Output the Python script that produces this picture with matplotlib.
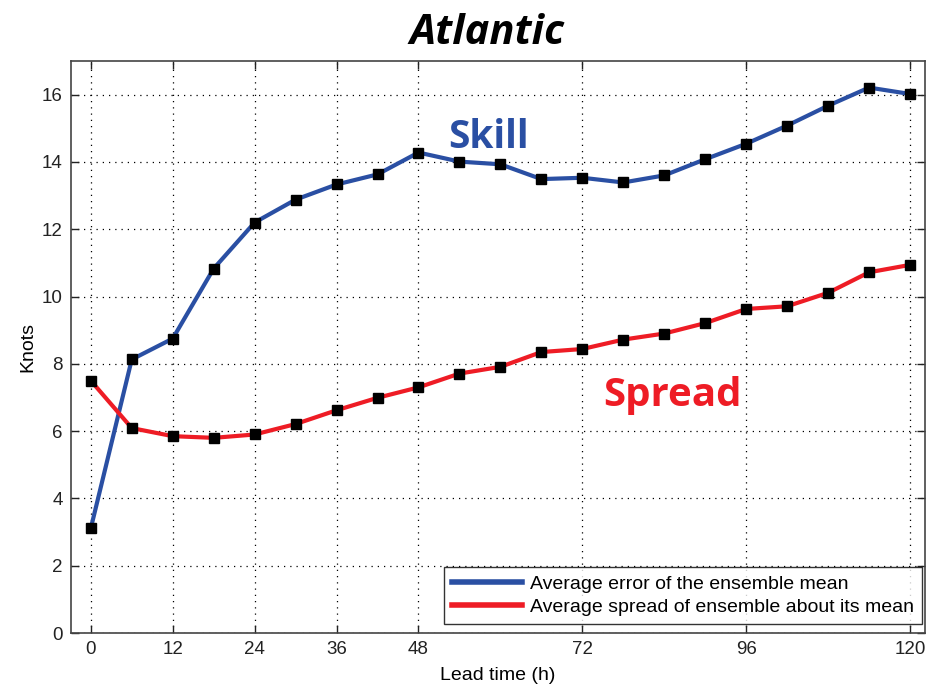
import matplotlib
matplotlib.use("Agg")
import matplotlib.pyplot as plt

lead_time = [0, 6, 12, 18, 24, 30, 36, 42, 48, 54, 60, 66, 72, 78, 84, 90, 96, 102, 108, 114, 120]
error_mean = [3.11, 8.13, 8.75, 10.83, 12.20, 12.88, 13.33, 13.63, 14.28, 14.01, 13.93, 13.49,
              13.53, 13.39, 13.60, 14.08, 14.54, 15.08, 15.67, 16.21, 16.02]
spread_mean = [7.50, 6.09, 5.85, 5.80, 5.90, 6.21, 6.62, 6.99, 7.30, 7.71, 7.91, 8.35,
               8.44, 8.72, 8.90, 9.21, 9.63, 9.71, 10.11, 10.72, 10.94]
x_ticks = [0, 12, 24, 36, 48, 72, 96, 120]
y_ticks = [0, 2, 4, 6, 8, 10, 12, 14, 16]
legend_labels = ["Average error of the ensemble mean",
                 "Average spread of ensemble about its mean"]

blue = "#2a4fa3"
red = "#ee1c25"

fig = plt.figure(figsize=(9.27, 6.86), dpi=100)
ax = fig.add_axes([71 / 927, 53 / 686, 854 / 927, 572 / 686])

ax.plot(lead_time, error_mean, color=blue, lw=3, marker="s", ms=6.5,
        mfc="black", mec="black", zorder=3)
ax.plot(lead_time, spread_mean, color=red, lw=3, marker="s", ms=6.5,
        mfc="black", mec="black", zorder=3)

ax.set_xlim(-2.9, 122.2)
ax.set_ylim(0, 17)
ax.set_xticks(x_ticks)
ax.set_yticks(y_ticks)
ax.grid(True, color="black", linestyle=(0, (1, 4)), linewidth=0.9)
ax.tick_params(direction="in", length=6, width=1, top=True, right=True,
               labelsize=13.5, colors="#222222", pad=6)
for sp in ax.spines.values():
    sp.set_color("#444444")
    sp.set_linewidth(1.2)

for lab in ax.get_xticklabels() + ax.get_yticklabels():
    lab.set_family("Liberation Sans")

ax.set_xlabel("Lead time (h)", fontsize=14, family="Liberation Sans", labelpad=6)
ax.set_ylabel("Knots", fontsize=14, family="Liberation Sans", labelpad=4)

# legend entries show only the line colour, no markers
handles = [plt.Line2D([], [], color=blue, lw=4),
           plt.Line2D([], [], color=red, lw=4)]
leg = ax.legend(handles, legend_labels, loc="lower right",
                prop={"family": "Liberation Sans", "size": 14},
                frameon=True, fancybox=False, edgecolor="black", handlelength=3.6,
                borderpad=0.4, labelspacing=0.3, handletextpad=0.4,
                bbox_to_anchor=(0.996, 0.016), borderaxespad=0)
leg.get_frame().set_linewidth(1.0)

ax.text(58.3, 14.73, "Skill", color=blue, fontsize=28, fontweight="bold",
        family="Open Sans", ha="center", va="center")
ax.text(85.2, 7.07, "Spread", color=red, fontsize=29, fontweight="bold",
        family="Open Sans", ha="center", va="center")

fig.text(487 / 927, 1 - 33 / 686, "Atlantic", fontsize=30, fontweight="bold",
         fontstyle="italic", family="Open Sans", ha="center", va="center")

fig.savefig("out.png", dpi=100)
